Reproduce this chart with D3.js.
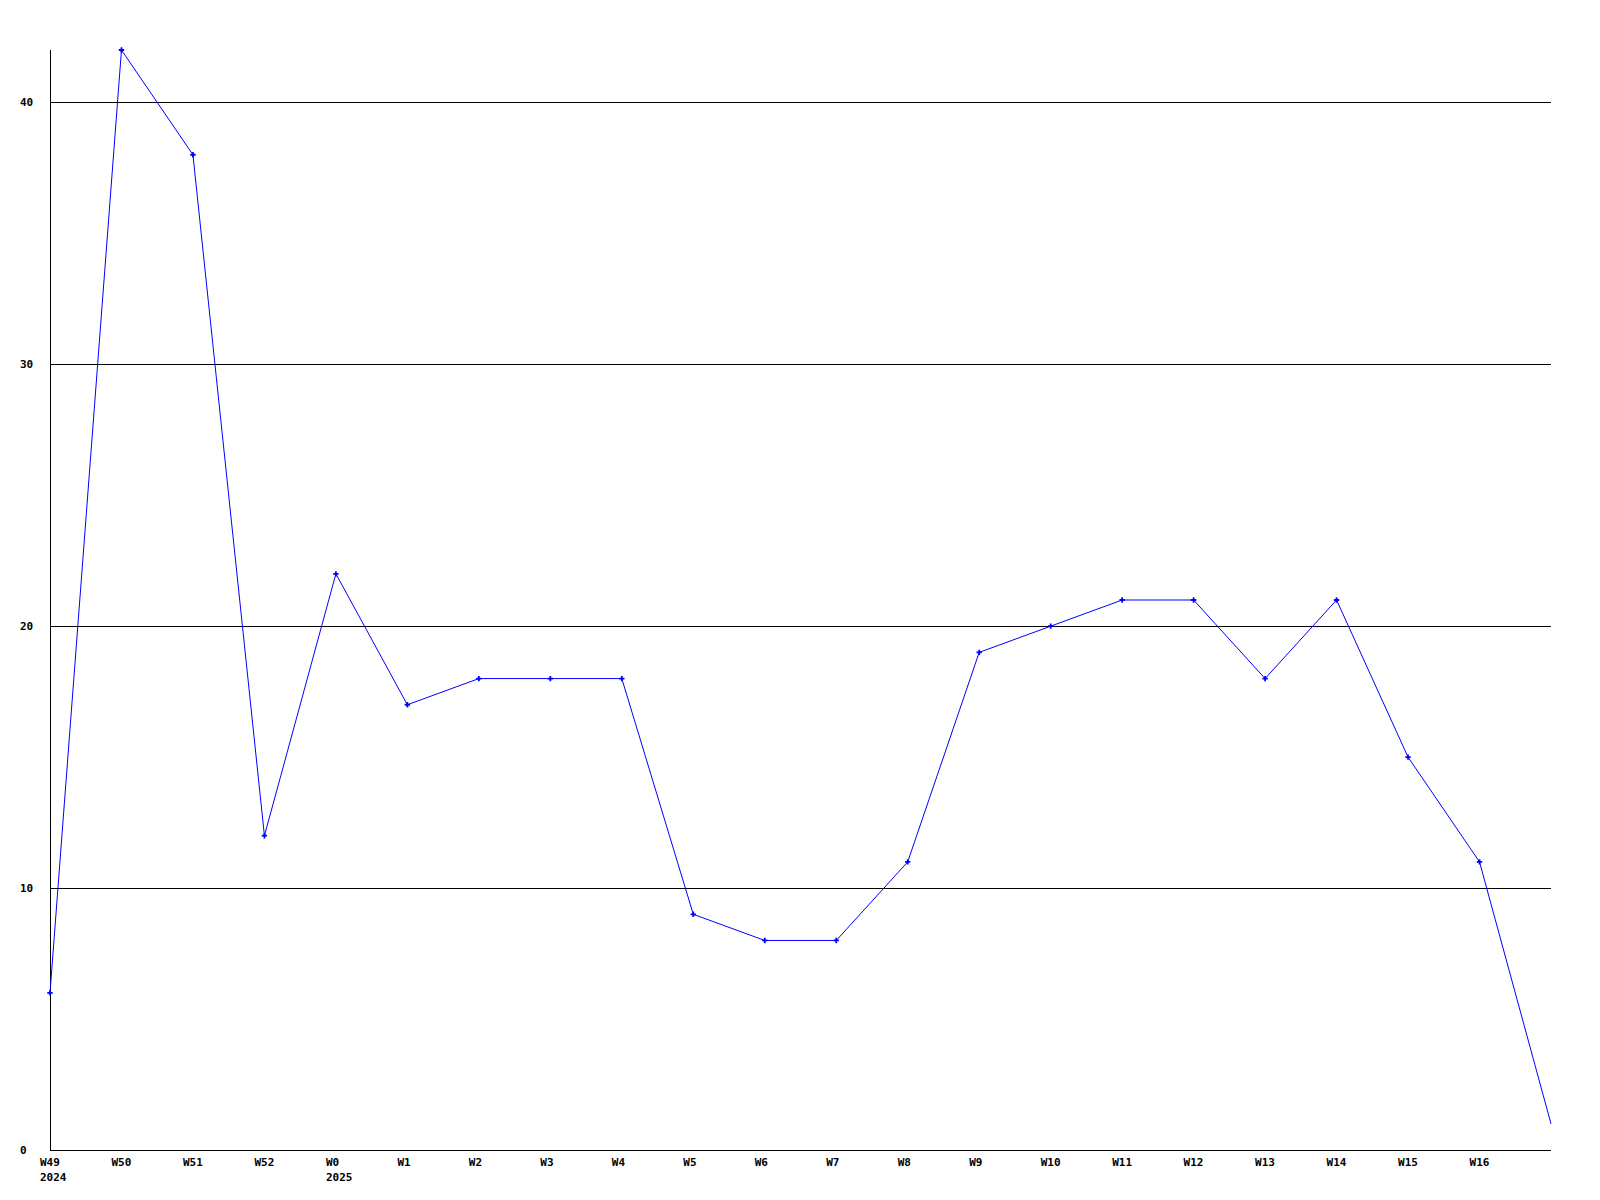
<!DOCTYPE html>
<html><head><meta charset="utf-8">
<script src="https://cdn.jsdelivr.net/npm/d3@7"></script>
<style>body{margin:0;background:#fff}svg{display:block}</style>
</head><body>
<script>
const weeks = ["W49","W50","W51","W52","W0","W1","W2","W3","W4","W5","W6","W7","W8","W9","W10","W11","W12","W13","W14","W15","W16","W17"];
const values = [6,42,38,12,22,17,18,18,18,9,8,8,11,19,20,21,21,18,21,15,11,1];
const tickLabels = ["W49","W50","W51","W52","W0","W1","W2","W3","W4","W5","W6","W7","W8","W9","W10","W11","W12","W13","W14","W15","W16"];
const yearLabels = [["W49","2024"],["W0","2025"]];
const yTicks = [0,10,20,30,40];

const W=1600,H=1200;
const svg=d3.select("body").append("svg").attr("width",W).attr("height",H);
const x=d3.scalePoint().domain(weeks).range([50,1551]);
const y=d3.scaleLinear().domain([0,42]).range([1150,50]);
const font='bold 11px "DejaVu Sans Mono", monospace';

// gridlines
svg.append("g").selectAll("line").data(yTicks.filter(d=>d>0)).join("line")
  .attr("x1",50).attr("x2",1551).attr("y1",d=>Math.round(y(d))+0.5).attr("y2",d=>Math.round(y(d))+0.5)
  .attr("stroke","#000").attr("stroke-width",1).attr("shape-rendering","crispEdges");
// axes
svg.append("line").attr("x1",50.5).attr("x2",50.5).attr("y1",50).attr("y2",1150.5).attr("stroke","#000").attr("shape-rendering","crispEdges");
svg.append("line").attr("x1",50).attr("x2",1551).attr("y1",1150.5).attr("y2",1150.5).attr("stroke","#000").attr("shape-rendering","crispEdges");

// y labels
svg.append("g").selectAll("text").data(yTicks).join("text")
  .attr("x",20).attr("y",d=>y(d)+4).style("font",font).attr("fill","#000").text(d=>d);
// x labels
svg.append("g").selectAll("text").data(tickLabels).join("text")
  .attr("x",d=>x(d)-10).attr("y",1166).style("font",font).attr("fill","#000").text(d=>d);
svg.append("g").selectAll("text").data(yearLabels).join("text")
  .attr("x",d=>x(d[0])-10).attr("y",1181).style("font",font).attr("fill","#000").text(d=>d[1]);

// line
const pts=weeks.map((w,i)=>[x(w),y(values[i])]);
svg.append("path").attr("d",d3.line()(pts)).attr("fill","none").attr("stroke","#0000ff").attr("stroke-width",1);
// markers (not on last point)
svg.append("g").selectAll("path").data(pts.slice(0,-1)).join("path")
  .attr("transform",d=>`translate(${d[0]},${d[1]})`)
  .attr("d",d3.symbol(d3.symbolCross,16)())
  .attr("fill","#0000ff");
</script>
</body></html>
